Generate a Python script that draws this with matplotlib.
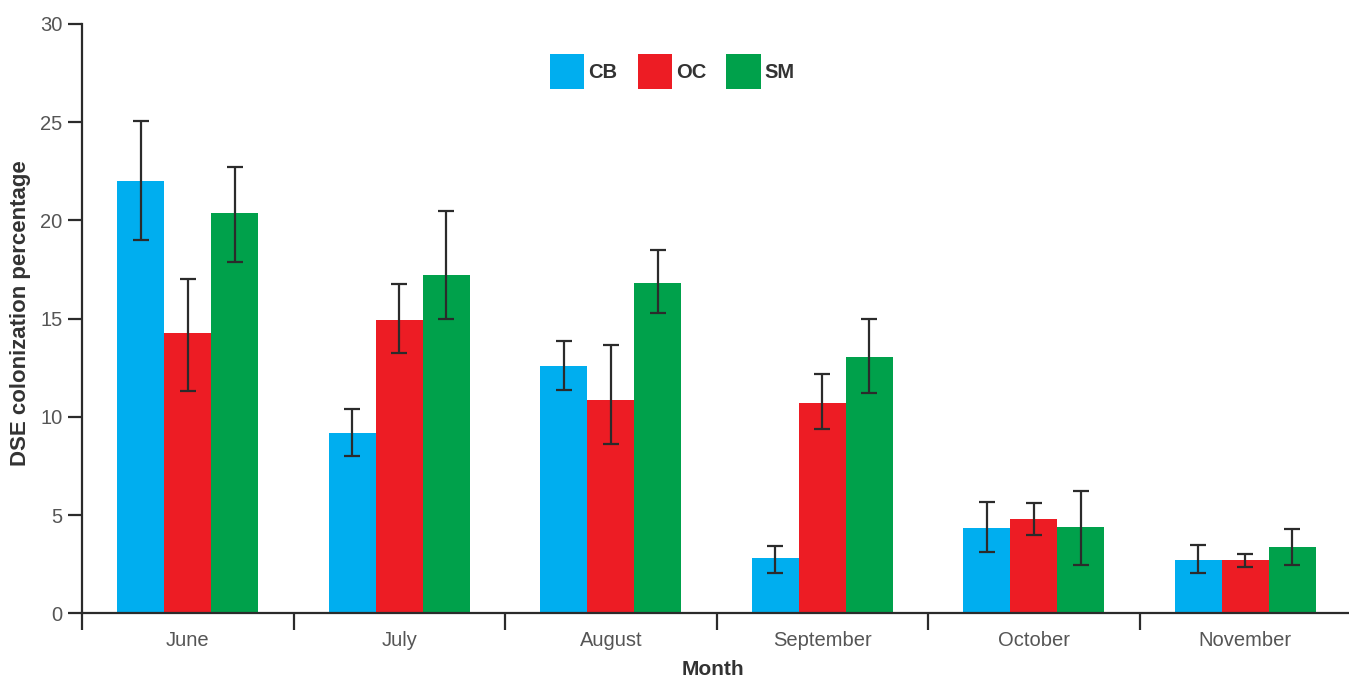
import numpy as np
import matplotlib
matplotlib.use("Agg")
import matplotlib.pyplot as plt
from matplotlib.ticker import FixedLocator

plt.rcParams["font.family"] = ["Liberation Sans", "DejaVu Sans"]

# ── Data: mean DSE colonization (%) with lower / upper error bar limits ──────
months = ["June", "July", "August", "September", "October", "November"]
sites = ["CB", "OC", "SM"]

cb_mean = [22.0, 9.2, 12.6, 2.8, 4.35, 2.7]
cb_low = [19.0, 8.0, 11.35, 2.05, 3.1, 2.07]
cb_high = [25.05, 10.4, 13.85, 3.45, 5.67, 3.5]

oc_mean = [14.25, 14.95, 10.85, 10.7, 4.8, 2.7]
oc_low = [11.3, 13.25, 8.6, 9.4, 4.0, 2.36]
oc_high = [17.0, 16.75, 13.65, 12.2, 5.62, 3.04]

sm_mean = [20.4, 17.2, 16.8, 13.05, 4.38, 3.38]
sm_low = [17.9, 14.97, 15.27, 11.23, 2.46, 2.48]
sm_high = [22.7, 20.5, 18.5, 15.0, 6.22, 4.31]

colors = ["#00aeef", "#ed1c24", "#00a14b"]

means = [cb_mean, oc_mean, sm_mean]
lows = [cb_low, oc_low, sm_low]
highs = [cb_high, oc_high, sm_high]

fig = plt.figure(figsize=(13.49, 6.79), dpi=100)
ax = fig.add_axes([0.0608, 0.0968, 0.9392, 0.8679])

x = np.arange(len(months))
width = 0.222
for i, (m, lo, hi) in enumerate(zip(means, lows, highs)):
    m = np.array(m)
    yerr = np.vstack([m - np.array(lo), np.array(hi) - m])
    ax.bar(x + (i - 1) * width, m, width, color=colors[i], label=sites[i],
           yerr=yerr, error_kw=dict(ecolor="#2b2b2b", elinewidth=1.6,
                                    capsize=6, capthick=1.6),
           zorder=2)

ax.set_xlim(-0.5, 5.49)
ax.set_ylim(0, 30)

# spines
for s in ["top", "right"]:
    ax.spines[s].set_visible(False)
for s in ["left", "bottom"]:
    ax.spines[s].set_color("#2b2b2b")
    ax.spines[s].set_linewidth(1.6)

# y axis
ax.set_yticks(range(0, 31, 5))
ax.tick_params(axis="y", direction="out", length=10, width=1.6,
               color="#2b2b2b", labelsize=14.5, labelcolor="#555555", pad=4)

# x axis: labels at group centres, tick marks between groups
ax.set_xticks(x)
ax.set_xticklabels(months)
ax.xaxis.set_minor_locator(FixedLocator(np.arange(-0.5, 5.6, 1.0)))
ax.tick_params(axis="x", which="major", length=0, labelsize=14.5,
               labelcolor="#555555", pad=13)
ax.tick_params(axis="x", which="minor", direction="out", length=12,
               width=1.6, color="#2b2b2b")

ax.set_ylabel("DSE colonization percentage", fontsize=16, fontweight="bold",
              color="#333333")
ax.yaxis.set_label_coords(-0.0405, 0.51)
ax.set_xlabel("Month", fontsize=15, fontweight="bold", color="#333333")
ax.xaxis.set_label_coords(0.498, -0.079)

leg = ax.legend(loc="upper center", bbox_to_anchor=(0.466, 0.98), ncol=3,
                frameon=False, handlelength=1.7, handleheight=2.3,
                handletextpad=0.2, columnspacing=1.0,
                prop=dict(size=14.5, weight="bold"))
for t in leg.get_texts():
    t.set_color("#333333")

fig.savefig("out.png", dpi=100)
